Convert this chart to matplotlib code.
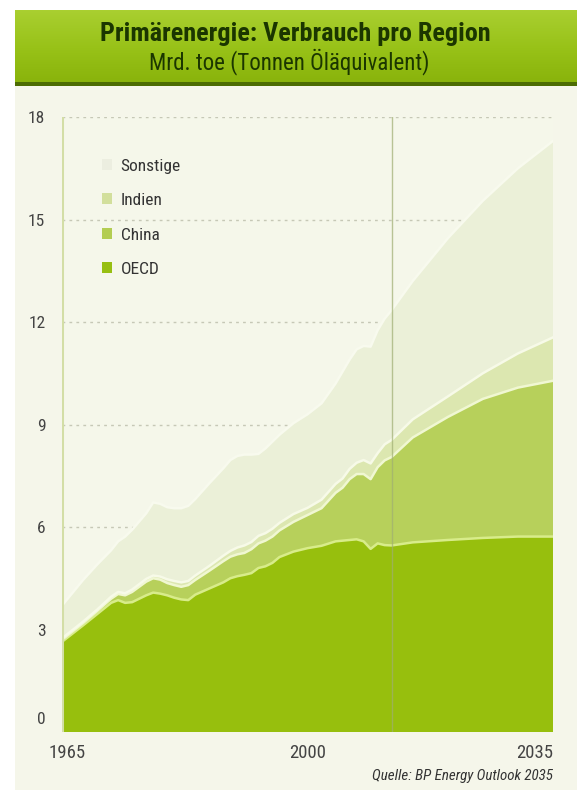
import numpy as np
import matplotlib
matplotlib.use("Agg")
import matplotlib.pyplot as plt
from matplotlib import font_manager
from matplotlib.patches import Rectangle, Patch
from matplotlib.transforms import ScaledTranslation

# ---- data (Mrd. toe) ----
years = [1965, 1968, 1970, 1972, 1973, 1974, 1975, 1977, 1978, 1979, 1980, 1981,
         1982, 1983, 1984, 1986, 1988, 1989, 1990, 1991, 1992, 1993, 1994, 1995,
         1996, 1998, 2000, 2002, 2004, 2005, 2006, 2007, 2008, 2009, 2010, 2011,
         2012, 2015, 2020, 2025, 2030, 2035]
oecd = [2.64, 3.12, 3.45, 3.78, 3.86, 3.78, 3.80, 4.00, 4.08, 4.05, 4.00, 3.93,
        3.88, 3.86, 4.02, 4.20, 4.38, 4.50, 4.56, 4.60, 4.65, 4.80, 4.85, 4.95,
        5.12, 5.28, 5.38, 5.45, 5.58, 5.60, 5.62, 5.64, 5.58, 5.36, 5.52, 5.47,
        5.46, 5.55, 5.62, 5.68, 5.72, 5.72]
china = [0.06, 0.07, 0.09, 0.12, 0.18, 0.22, 0.30, 0.40, 0.42, 0.41, 0.36, 0.37,
         0.37, 0.44, 0.43, 0.52, 0.62, 0.63, 0.64, 0.64, 0.70, 0.72, 0.75, 0.77,
         0.78, 0.87, 0.97, 1.10, 1.42, 1.55, 1.78, 1.91, 1.97, 2.04, 2.23, 2.48,
         2.59, 3.07, 3.60, 4.07, 4.36, 4.56]
indien = [0.04, 0.04, 0.04, 0.06, 0.06, 0.06, 0.07, 0.08, 0.08, 0.09, 0.11, 0.12,
          0.13, 0.12, 0.13, 0.14, 0.16, 0.17, 0.20, 0.22, 0.21, 0.22, 0.22, 0.23,
          0.22, 0.23, 0.21, 0.25, 0.26, 0.27, 0.30, 0.33, 0.41, 0.46, 0.41, 0.47,
          0.50, 0.53, 0.60, 0.75, 1.00, 1.27]
sonstige = [0.96, 1.22, 1.32, 1.36, 1.48, 1.66, 1.75, 1.92, 2.14, 2.13, 2.11, 2.13,
            2.17, 2.20, 2.24, 2.42, 2.56, 2.66, 2.68, 2.66, 2.56, 2.40, 2.48, 2.55,
            2.58, 2.66, 2.74, 2.82, 2.94, 3.13, 3.20, 3.32, 3.34, 3.42, 3.60, 3.68,
            3.80, 4.05, 4.63, 5.05, 5.42, 5.75]
series_labels = ['OECD', 'China', 'Indien', 'Sonstige']
series_colors = ['#97bf0d', '#b7d05b', '#dce7b0', '#ebf0d8']
legend_colors = ['#97bf12', '#b3cd52', '#d2df9c', '#eceee0']
yticks = [0, 3, 6, 9, 12, 15, 18]
xtick_years = [1965, 2000, 2035]
forecast_start = 2012

title = 'Primärenergie: Verbrauch pro Region'
subtitle = 'Mrd. toe (Tonnen Öläquivalent)'
source = 'Quelle: BP Energy Outlook 2035'

# ---- pick a condensed font if one is installed ----
ttf = font_manager.fontManager.ttflist
names = {f.name for f in ttf}
chosen = None
stretch = 'normal'
for cand in ['Roboto Condensed', 'Liberation Sans Narrow', 'Open Sans Condensed',
             'Arial Narrow', 'Noto Sans Condensed']:
    if cand in names:
        chosen = cand
        break
if chosen is None:
    if any(f.name == 'DejaVu Sans' and 'ondensed' in f.fname for f in ttf):
        chosen, stretch = 'DejaVu Sans', 'condensed'
    else:
        chosen = 'Roboto' if 'Roboto' in names else 'DejaVu Sans'
FONT = [chosen, 'DejaVu Sans']
plt.rcParams['font.family'] = FONT
plt.rcParams['font.stretch'] = stretch

W, H = 577, 790
fig = plt.figure(figsize=(W / 100, H / 100), dpi=100)
fig.patch.set_facecolor('white')

# cream panel (as a background axes)
bg = fig.add_axes([15 / W, 0, 1 - 15 / W, 1 - 84 / H], zorder=-10)
bg.set_axis_off()
bg.add_patch(Rectangle((0, 0), 1, 1, transform=bg.transAxes,
                       facecolor='#f5f6ea', edgecolor='none'))

# title band with gradient
band = fig.add_axes([15 / W, 1 - 86 / H, 1 - 15 / W, 76 / H], zorder=-5)
band.set_axis_off()
top_c = np.array([0xa9, 0xcf, 0x30]) / 255
mid_c = np.array([0x98, 0xc2, 0x18]) / 255
bot_c = np.array([0x88, 0xb2, 0x0a]) / 255
sh_c = np.array([0x4c, 0x6c, 0x02]) / 255
n = 76
grad = np.zeros((n, 1, 3))
for i in range(n):
    t = i / (n - 1)
    if i >= n - 4:
        c = sh_c
    elif t < 0.5:
        c = top_c + (mid_c - top_c) * (t / 0.5)
    else:
        c = mid_c + (bot_c - mid_c) * ((t - 0.5) / 0.5)
    grad[i, 0] = c
band.imshow(grad, aspect='auto', extent=[0, 1, 0, 1])
band.set_xlim(0, 1)
band.set_ylim(0, 1)

fig.text(295 / W, 1 - 34 / H, title, ha='center', va='center', fontsize=18.8,
         fontweight='bold', color='#1b3600')
fig.text(289 / W, 1 - 62 / H, subtitle, ha='center', va='center', fontsize=16.5,
         color='#1b3600')

# main axes
L, R, B, T = 62, 553, 732, 117
ax = fig.add_axes([L / W, 1 - B / H, (R - L) / W, (B - T) / H], zorder=1)
ax.set_facecolor('#f5f7ea')
ax.set_xlim(1965, 2035)
ax.set_ylim(0, 18)

for v in yticks[1:]:
    ax.axhline(v, color='#c6c8b6', lw=1.0, ls=(0, (2, 3)), zorder=0.5)

ax.stackplot(years, oecd, china, indien, sonstige, colors=series_colors,
             zorder=1, linewidth=0)
cum = np.cumsum(np.vstack([oecd, china, indien, sonstige]), axis=0)
line_cols = ['#d8ec8a', '#f0f7d2', '#f7fae8', '#f8faee']
for k in range(4):
    ax.plot(years, cum[k], color=line_cols[k], lw=1.8, zorder=2,
            solid_joinstyle='round')

ax.axvline(forecast_start, color='#9fae72', lw=1.0, alpha=0.7, zorder=3)
ax.axvline(1965, color='#d3dea6', lw=2.2, zorder=3)

for s in ax.spines.values():
    s.set_visible(False)
ax.set_yticks(yticks)
ax.set_yticklabels([str(v) for v in yticks])
ax.set_xticks(xtick_years)
ax.set_xticklabels([str(v) for v in xtick_years])
ax.tick_params(axis='y', length=0, labelsize=12.5, labelcolor='#444444', pad=12)
ax.tick_params(axis='x', length=0, labelsize=13.5, labelcolor='#444444', pad=9)
ylabs = ax.get_yticklabels()
ylabs[0].set_transform(ylabs[0].get_transform() +
                       ScaledTranslation(0, 14 / 100, fig.dpi_scale_trans))
xlabs = ax.get_xticklabels()
xlabs[0].set_transform(xlabs[0].get_transform() +
                       ScaledTranslation(5 / 100, 0, fig.dpi_scale_trans))
xlabs[-1].set_horizontalalignment('right')

handles = [Patch(facecolor=c, edgecolor='none')
           for c in legend_colors[::-1]]
leg = ax.legend(handles, series_labels[::-1], loc='upper left',
                bbox_to_anchor=(86 / W, 1 - 143 / H),
                bbox_transform=fig.transFigure, frameon=False,
                fontsize=12.5, handlelength=0.6, handleheight=0.6,
                labelspacing=1.12, handletextpad=0.5, labelcolor='#333333')

fig.text(553 / W, 1 - 776 / H, source, ha='right', va='center', fontsize=10.8,
         style='italic', color='#333333')

fig.savefig('out.png', dpi=100, facecolor=fig.get_facecolor())
